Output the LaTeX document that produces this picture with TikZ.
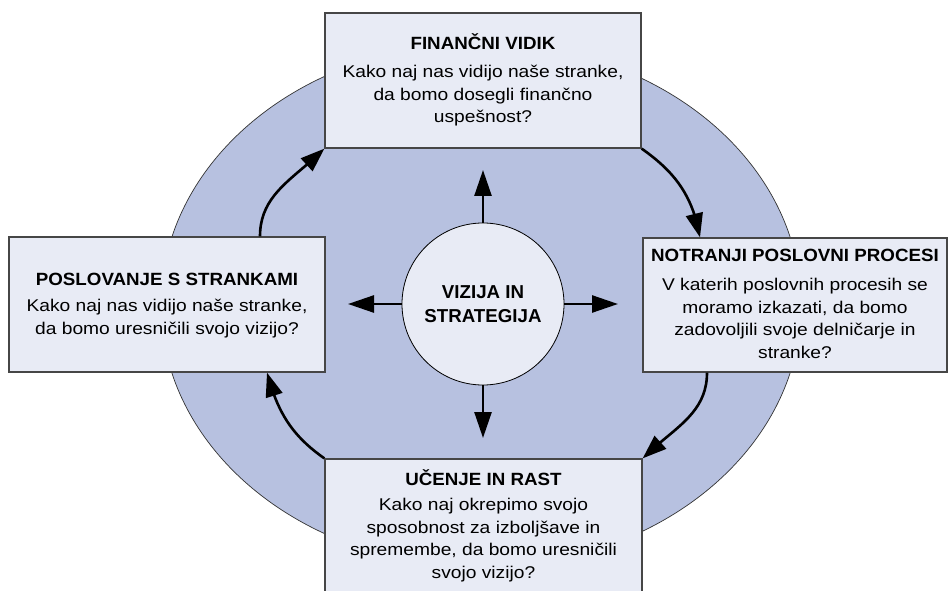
\documentclass[tikz,border=0pt]{standalone}
\usepackage{fontspec}
\setmainfont{Liberation Sans}
\newfontfamily\bodyfont[FakeStretch=1.13]{Liberation Sans}
\newfontfamily\headfont[FakeStretch=1.06]{Liberation Sans}
\usetikzlibrary{arrows.meta,bending,calc}
\definecolor{ringfill}{RGB}{183,193,224}
\definecolor{panelfill}{RGB}{232,235,245}
\definecolor{edgegray}{RGB}{70,70,70}
\begin{document}
\begin{tikzpicture}[x=1pt,y=1pt,
  panel/.style={draw=edgegray, line width=1.3pt, fill=panelfill, inner sep=0pt},
  hub/.style={circle, draw=black, line width=0.8pt, fill=panelfill,
    minimum size=162pt, inner sep=0pt, align=center,
    font=\bfseries\fontsize{18.7}{24}\selectfont},
  flow/.style={line width=2.6pt, -{Triangle[length=24pt,width=17pt,flex]}},
  spoke/.style={line width=2.6pt, -{Triangle[length=26pt,width=17pt]}},
  head/.style={anchor=base, font=\headfont\bfseries\fontsize{17.7}{21}\selectfont},
  % a multi-line body node is placed by the baseline of its last line
  body/.style={anchor=base, align=center, font=\bodyfont\fontsize{17}{22.5}\selectfont},
]
\clip (0,0) rectangle (948,590);
\fill[white] (0,0) rectangle (948,590);

% background ring
\draw[fill=ringfill, draw=black!80, line width=0.7pt] (481,285) ellipse [x radius=320, y radius=262];

% the four perspectives
\node[panel, minimum width=316pt, minimum height=135pt] (fin)   at (483,509.5) {};
\node[panel, minimum width=316pt, minimum height=135pt] (cust)  at (167,285.5) {};
\node[panel, minimum width=304pt, minimum height=134pt] (proc)  at (795,285)   {};
\node[panel, minimum width=317pt, minimum height=141pt] (learn) at (483.5,60.5) {};

% cycle between the perspectives
\draw[flow] ([xshift=93pt]cust.north) to[out=90,in=225] (fin.south west);
\draw[flow] (fin.south east) to[out=-35,in=100] ([xshift=-95pt]proc.north);
\draw[flow] ([xshift=-88pt]proc.south) to[out=-90,in=45] (learn.north east);
\draw[flow] (learn.north west) to[out=145,in=-75] ([xshift=100pt]cust.south);

% texts
\node[head] (finT) at (483,540) {FINANČNI VIDIK};
\node[body] (finB) at (483,467.3) {Kako naj nas vidijo naše stranke,\\da bomo dosegli finančno\\uspešnost?};
\node[head] (custT) at (167,305) {POSLOVANJE S STRANKAMI};
\node[body] (custB) at (167,256) {Kako naj nas vidijo naše stranke,\\da bomo uresničili svojo vizijo?};
\node[head] (procT) at (795,328.3) {NOTRANJI POSLOVNI PROCESI};
\node[body] (procB) at (795,232) {V katerih poslovnih procesih se\\moramo izkazati, da bomo\\zadovoljili svoje delničarje in\\stranke?};
\node[head] (learnT) at (483.5,105) {UČENJE IN RAST};
\node[body] (learnB) at (483.5,11.7) {Kako naj okrepimo svojo\\sposobnost za izboljšave in\\spremembe, da bomo uresničili\\svojo vizijo?};

% vision and strategy hub
\node[hub] (core) at (483,286) {VIZIJA IN\\STRATEGIJA};
\coordinate (tipN) at (483,420);
\coordinate (tipS) at (483,152);
\coordinate (tipW) at (348,286);
\coordinate (tipE) at (618,286);
\draw[spoke] (core.north) -- (tipN);
\draw[spoke] (core.south) -- (tipS);
\draw[spoke] (core.west) -- (tipW);
\draw[spoke] (core.east) -- (tipE);
\end{tikzpicture}
\end{document}
